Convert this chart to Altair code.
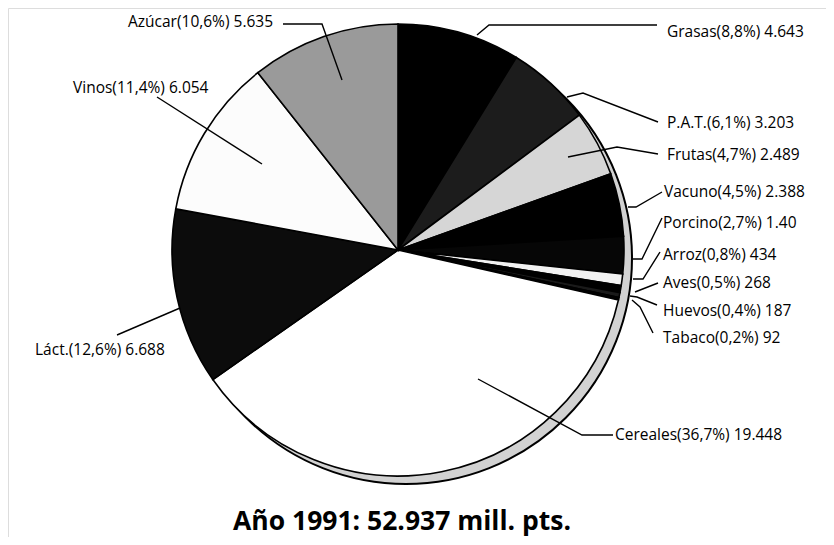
import altair as alt
import pandas as pd

# ---------------- data ----------------
categories = ["Grasas", "P.A.T.", "Frutas", "Vacuno", "Porcino", "Arroz", "Aves",
              "Huevos", "Tabaco", "Cereales", "Láct.", "Vinos", "Azúcar"]
values = [4643, 3203, 2489, 2388, 1408, 434, 268, 187, 92, 19448, 6688, 6054, 5635]
percent_labels = ["8,8", "6,1", "4,7", "4,5", "2,7", "0,8", "0,5", "0,4", "0,2",
                  "36,7", "12,6", "11,4", "10,6"]
value_labels = ["4.643", "3.203", "2.489", "2.388", "1.40", "434", "268", "187", "92",
                "19.448", "6.688", "6.054", "5.635"]
title_text = "Año 1991: 52.937 mill. pts."

# ---------------- style / layout ----------------
fills = ["#000000", "#1c1c1c", "#d6d6d6", "#000000", "#060606", "#f2f2f2", "#000000",
         "#1a1a1a", "#000000", "#ffffff", "#0c0c0c", "#fcfcfc", "#9a9a9a"]
W, H = 818, 529
CX, CY, R = 398, 250, 226       # pie centre / radius (page pixels)
DEPTH = 8                        # 3-D rim offset

# label anchor (left edge, vertical middle) in page pixels
label_pos = {
    "Grasas": (667, 32), "P.A.T.": (667, 123), "Frutas": (667, 155),
    "Vacuno": (664, 192), "Porcino": (663, 223), "Arroz": (663, 255),
    "Aves": (663, 283), "Huevos": (663, 311), "Tabaco": (663, 338),
    "Cereales": (615, 435), "Láct.": (35, 350), "Vinos": (73, 88),
    "Azúcar": (128, 22),
}
# leader polylines (page pixels)
leaders = {
    "Azúcar": [(283, 24), (322, 24), (342, 80)],
    "Vinos": [(157, 97), (262, 164)],
    "Grasas": [(657, 25), (489, 25), (477, 35)],
    "P.A.T.": [(658, 122), (583, 93), (567, 97)],
    "Frutas": [(658, 154), (617, 147), (568, 157)],
    "Vacuno": [(662, 192), (636, 207), (628, 207)],
    "Porcino": [(662, 218), (642, 259), (633, 259)],
    "Arroz": [(660, 252), (643, 279), (633, 279)],
    "Aves": [(658, 283), (635, 292)],
    "Huevos": [(657, 305), (637, 297), (630, 296)],
    "Tabaco": [(653, 333), (640, 307), (632, 300)],
    "Cereales": [(613, 435), (582, 435), (478, 379)],
    "Láct.": [(117, 335), (180, 308)],
}

FONT = "Open Sans"

df = pd.DataFrame({
    "cat": categories,
    "value": values,
    "idx": list(range(len(categories))),
    "label": [f"{c}({p}%) {v}" for c, p, v in zip(categories, percent_labels, value_labels)],
})
df["lx"] = [label_pos[c][0] for c in categories]
df["ly"] = [label_pos[c][1] for c in categories]

line_rows = []
for c, pts in leaders.items():
    for i, (x, y) in enumerate(pts):
        line_rows.append({"cat": c, "pt": i, "x": x, "y": y})
lines_df = pd.DataFrame(line_rows)

xs = alt.Scale(domain=[8, 8 + W], range=[0, W])
ys = alt.Scale(domain=[8, 8 + H], range=[0, H])

rim = alt.Chart(pd.DataFrame({"k": [0]})).mark_arc(
    radius=R, theta=0, theta2=6.2832, fill="#d2d2d2", stroke="black", strokeWidth=2
).encode(x=alt.value(CX - 8 + DEPTH), y=alt.value(CY - 8 + DEPTH))

pie = alt.Chart(df).mark_arc(radius=R, stroke="black", strokeWidth=1.6).encode(
    theta=alt.Theta("value:Q", stack=True),
    order=alt.Order("idx:Q", sort="ascending"),
    color=alt.Color("cat:N", scale=alt.Scale(domain=categories, range=fills), legend=None),
    x=alt.value(CX - 8),
    y=alt.value(CY - 8),
)

lines = alt.Chart(lines_df).mark_line(color="black", strokeWidth=1.4).encode(
    x=alt.X("x:Q", scale=xs, axis=None),
    y=alt.Y("y:Q", scale=ys, axis=None),
    detail="cat:N",
    order="pt:Q",
)

labels = alt.Chart(df).mark_text(
    align="left", baseline="middle", font=FONT, fontSize=15.5, color="black"
).encode(
    x=alt.X("lx:Q", scale=xs, axis=None),
    y=alt.Y("ly:Q", scale=ys, axis=None),
    text="label:N",
)

title = alt.Chart(pd.DataFrame({"t": [title_text], "x": [402], "y": [522]})).mark_text(
    align="center", baseline="middle", font=FONT, fontSize=26.5, fontWeight="bold", color="black"
).encode(
    x=alt.X("x:Q", scale=xs, axis=None),
    y=alt.Y("y:Q", scale=ys, axis=None),
    text="t:N",
)

chart = alt.layer(rim, pie, lines, labels, title).properties(
    width=W, height=H, padding=0, autosize="none"
).configure_view(stroke=None).configure(background="white")

chart.save("out.html", embed_options={"renderer": "svg", "actions": False})
